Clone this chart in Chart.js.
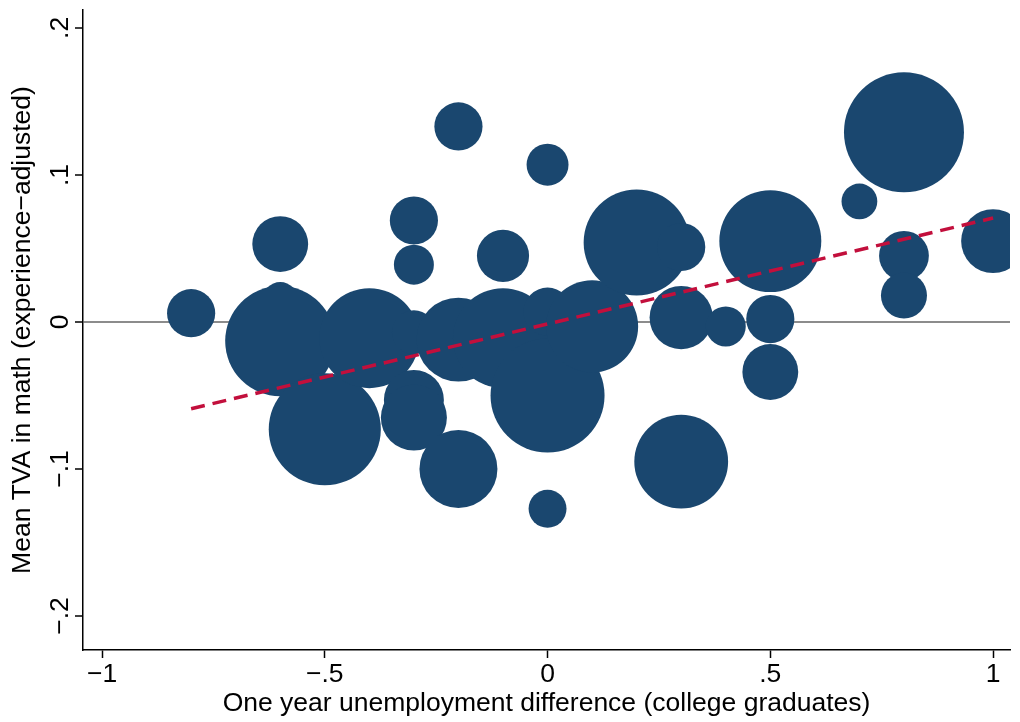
<!DOCTYPE html>
<html>
<head>
<meta charset="utf-8">
<script src="https://cdn.jsdelivr.net/npm/chart.js"></script>
<title>TVA vs unemployment</title>
<style>
  body { margin: 0; background: #fff; }
  #wrap { width: 1020px; height: 722px; }
</style>
</head>
<body>
<div id="wrap"><canvas id="chart"></canvas></div>
<script>
// one bubble per cell
const unempDiff = [-0.8, -0.6, -0.6, -0.6, -0.5, -0.4, -0.3, -0.3, -0.3, -0.3, -0.3,
                   -0.2, -0.2, -0.2, -0.1, -0.1, 0, 0, 0, 0, 0.1, 0.2,
                   0.3, 0.3, 0.3, 0.4, 0.5, 0.5, 0.5, 0.7, 0.8, 0.8, 0.8, 1.0];
const meanTVA = [0.006, 0.053, 0.015, -0.013, -0.073, -0.011, 0.069, 0.039, -0.007, -0.053, -0.065,
                 0.133, -0.012, -0.100, 0.045, -0.011, 0.107, 0.007, -0.050, -0.127, -0.003, 0.054,
                 0.051, 0.003, -0.095, -0.003, 0.055, 0.002, -0.034, 0.082, 0.129, 0.045, 0.018, 0.055];
// relative weight of each cell (bubble area)
const weights = [5.8, 7.8, 3.2, 30.3, 31.4, 25, 5.8, 4, 4.8, 9, 10.9,
                 5.8, 17.6, 15.2, 6.8, 25, 4.4, 5.8, 32.5, 3.6, 21.2, 28.1,
                 5.8, 10, 22, 4, 26, 5.8, 7.8, 3.2, 36, 6.2, 5.3, 10.2];
// fitted line
const fitX = [-0.8, 1.0];
const fitY = [-0.059, 0.0707];

const xTicks = [-1, -0.5, 0, 0.5, 1];
const yTicks = [-0.2, -0.1, 0, 0.1, 0.2];

const FONT = '"Liberation Sans", Arial, sans-serif';
const FSIZE = 26.5;

function fmt(v) {
    if (Math.abs(v) < 1e-9) return '0';
    const s = String(Math.abs(v)).replace(/^0/, '');
    return (v < 0 ? '\u2212' : '') + s;
}

const bubbles = unempDiff.map((x, i) => ({ x: x, y: meanTVA[i], r: 10 * Math.sqrt(weights[i]) }));
const fitLine = fitX.map((x, i) => ({ x: x, y: fitY[i] }));

// y tick labels are drawn rotated, like the original
const rotatedYLabels = {
    id: 'rotatedYLabels',
    afterDraw(chart) {
        const ctx = chart.ctx;
        const y = chart.scales.y;
        ctx.save();
        ctx.font = FSIZE + 'px ' + FONT;
        ctx.fillStyle = '#000';
        ctx.textAlign = 'center';
        ctx.textBaseline = 'middle';
        y.ticks.forEach(t => {
            ctx.save();
            ctx.translate(61, y.getPixelForValue(t.value));
            ctx.rotate(-Math.PI / 2);
            ctx.fillText(fmt(t.value), 0, 0);
            ctx.restore();
        });
        ctx.restore();
    }
};

new Chart(document.getElementById('chart'), {
    type: 'bubble',
    data: {
        datasets: [
            {
                type: 'line',
                data: fitLine,
                borderColor: '#c20f3c',
                borderWidth: 3.5,
                borderDash: [14, 8],
                pointRadius: 0,
                fill: false
            },
            {
                data: bubbles,
                backgroundColor: '#1a476f',
                borderWidth: 0
            }
        ]
    },
    options: {
        responsive: true,
        maintainAspectRatio: false,
        animation: false,
        events: [],
        layout: { autoPadding: false, padding: { top: 10, right: 10, left: 0, bottom: 0 } },
        plugins: { legend: { display: false }, tooltip: { enabled: false } },
        scales: {
            x: {
                type: 'linear',
                min: -1.0427,
                max: 1.038,
                afterBuildTicks: s => { s.ticks = xTicks.map(v => ({ value: v })); },
                afterFit: s => { s.height = 72; },
                ticks: {
                    callback: v => fmt(v),
                    font: { family: FONT, size: FSIZE },
                    color: '#000',
                    maxRotation: 0,
                    padding: 1
                },
                grid: { drawOnChartArea: false, tickLength: 8, tickColor: '#000', tickWidth: 1.5 },
                border: { color: '#000', width: 1.5 },
                title: {
                    display: true,
                    text: 'One year unemployment difference (college graduates)',
                    font: { family: FONT, size: FSIZE },
                    color: '#000',
                    padding: { top: 0, bottom: 2 }
                }
            },
            y: {
                type: 'linear',
                min: -0.2231,
                max: 0.2122,
                afterBuildTicks: s => { s.ticks = yTicks.map(v => ({ value: v })); },
                afterFit: s => { s.width = 83; },
                ticks: { display: false },
                grid: {
                    drawOnChartArea: true,
                    color: c => (c.tick && Math.abs(c.tick.value) < 1e-9) ? '#8c8c8c' : 'rgba(0,0,0,0)',
                    lineWidth: 2,
                    tickLength: 8,
                    tickColor: '#000',
                    tickWidth: 1.5
                },
                border: { color: '#000', width: 1.5 },
                title: {
                    display: true,
                    text: 'Mean TVA in math (experience\u2212adjusted)',
                    font: { family: FONT, size: FSIZE },
                    color: '#000',
                    padding: { top: 7, bottom: 0 }
                }
            }
        }
    },
    plugins: [rotatedYLabels]
});
</script>
</body>
</html>
